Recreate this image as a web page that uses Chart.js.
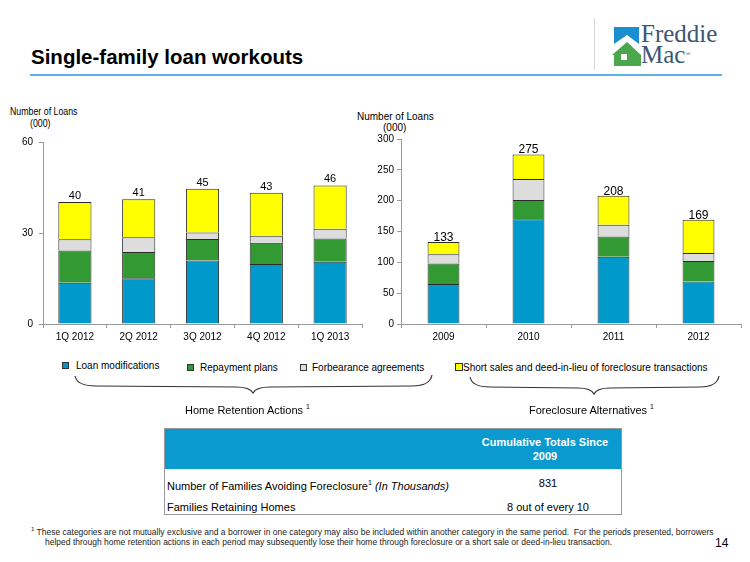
<!DOCTYPE html>
<html>
<head>
<meta charset="utf-8">
<script src="https://cdn.jsdelivr.net/npm/chart.js@4.4.1/dist/chart.umd.min.js"></script>
<style>
body { margin: 0; background: #fff; }
#slide { position: relative; width: 750px; height: 562px; overflow: hidden; font-family: Arial, "Liberation Sans", sans-serif; color: #000; }
.abs { position: absolute; white-space: nowrap; }
.narrow { transform: scaleX(0.8); transform-origin: left top; }
.sq { position: absolute; width: 5px; height: 5px; border: 1px solid #333; }
canvas { position: absolute; }
</style>
</head>
<body>
<div id="slide">
    <!-- header -->
    <div class="abs" style="left:31px;top:45px;font-size:20.5px;font-weight:bold;line-height:24px;">Single-family loan workouts</div>
    <div class="abs" style="left:30px;top:74px;width:692px;height:2px;background:#5bb4e5;"></div>
    <div class="abs" style="left:594px;top:18px;width:1px;height:52px;background:#d8d8d8;"></div>
    <svg class="abs" style="left:610px;top:24px;" width="34" height="46">
        <polygon points="4,3 29,3 29,20 17,11 4,20" fill="#1a8fd0"/>
        <polygon points="2,31 17,18 31,31 31,42 4,42 4,31" fill="#4ca64c"/>
        <rect x="11" y="30" width="6" height="6" fill="#fff"/>
    </svg>
    <div class="abs" style="left:641px;top:21px;font-family:'Liberation Serif','DejaVu Serif',serif;font-size:25px;line-height:25px;color:#3d5674;">Freddie</div>
    <div class="abs" style="left:641px;top:42px;font-family:'Liberation Serif','DejaVu Serif',serif;font-size:25px;line-height:25px;color:#3d5674;">Mac<span style="font-size:7px;vertical-align:top;">®</span></div>

    <!-- axis titles -->
    <div class="abs narrow" style="left:10px;top:105px;font-size:11px;line-height:12px;">Number of Loans</div>
    <div class="abs narrow" style="left:30px;top:117px;font-size:11px;line-height:12px;">(000)</div>
    <div class="abs" style="left:357px;top:111px;font-size:10px;line-height:12px;">Number of Loans</div>
    <div class="abs" style="left:383px;top:122px;font-size:10px;line-height:12px;">(000)</div>

    <canvas id="quarterChart" width="370" height="215" style="left:0px;top:130px;"></canvas>
    <canvas id="yearChart" width="390" height="215" style="left:360px;top:130px;"></canvas>

    <!-- legend -->
    <div class="sq" style="left:62px;top:362px;background:#0099cc;"></div>
    <div class="abs" style="left:76px;top:360px;font-size:10px;line-height:12px;">Loan modifications</div>
    <div class="sq" style="left:187px;top:364px;background:#339933;"></div>
    <div class="abs" style="left:200px;top:362px;font-size:10px;line-height:12px;">Repayment plans</div>
    <div class="sq" style="left:300px;top:364px;background:#dddddd;"></div>
    <div class="abs" style="left:312px;top:362px;font-size:10px;line-height:12px;">Forbearance agreements</div>
    <div class="sq" style="left:455px;top:363px;width:6px;height:6px;background:#ffff00;"></div>
    <div class="abs" style="left:463px;top:362px;font-size:10px;line-height:12px;">Short sales and deed-in-lieu of foreclosure transactions</div>

    <svg class="abs" style="left:0;top:0;" width="750" height="420">
        <path d="M75,376 Q77,386 96,386 L236,387 Q250,387 253,393 Q256,387 270,387 L412,386 Q430,386 432,375" fill="none" stroke="#333" stroke-width="1.2"/>
        <path d="M470,377 Q472,387 490,387 L578,388 Q591,388 594,394 Q597,388 610,388 L700,387 Q717,387 719,376" fill="none" stroke="#333" stroke-width="1.2"/>
    </svg>
    <div class="abs" style="left:185px;top:400px;font-size:11px;line-height:13px;">Home Retention Actions <sup style="font-size:7px;">1</sup></div>
    <div class="abs" style="left:529px;top:400px;font-size:11px;line-height:13px;">Foreclosure Alternatives <sup style="font-size:7px;">1</sup></div>

    <!-- table -->
    <div class="abs" style="left:164px;top:428px;width:456px;height:85px;border:1px solid #999;"></div>
    <div class="abs" style="left:165px;top:429px;width:456px;height:40px;background:#0a9ad0;"></div>
    <div class="abs" style="left:470px;top:435px;width:150px;text-align:center;color:#fff;font-weight:bold;font-size:11px;line-height:14px;">Cumulative Totals Since<br>2009</div>
    <div class="abs" style="left:167px;top:476px;font-size:11px;line-height:14px;">Number of Families Avoiding Foreclosure<sup style="font-size:7px;">1</sup> <i>(In Thousands)</i></div>
    <div class="abs" style="left:470px;top:476px;width:156px;text-align:center;font-size:11px;line-height:14px;">831</div>
    <div class="abs" style="left:167px;top:500px;font-size:11px;line-height:14px;">Families Retaining Homes</div>
    <div class="abs" style="left:470px;top:500px;width:156px;text-align:center;font-size:11px;line-height:14px;">8 out of every 10</div>

    <!-- footnote -->
    <div class="abs" style="left:31px;top:524px;font-size:8.5px;line-height:11px;color:#222;"><sup style="font-size:6px;">1</sup> These categories are not mutually exclusive and a borrower in one category may also be included within another category in the same period.&nbsp; For the periods presented, borrowers</div>
    <div class="abs" style="left:45px;top:537px;font-size:8.5px;line-height:11px;color:#222;">helped through home retention actions in each period may subsequently lose their home through foreclosure or a short sale or deed-in-lieu transaction.</div>
    <div class="abs" style="left:715px;top:536px;font-size:12px;line-height:14px;">14</div>
</div>

<script>
// Quarterly home retention / foreclosure alternatives (000 loans)
const quarterLabels = ['1Q 2012', '2Q 2012', '3Q 2012', '4Q 2012', '1Q 2013'];
const quarterLoanMods = [13.6, 15.1, 20.9, 19.8, 20.5];
const quarterRepayment = [10.6, 8.6, 7.1, 7.0, 7.7];
const quarterForbearance = [3.7, 4.9, 2.2, 2.3, 3.2];
const quarterShortSales = [12.3, 12.5, 14.4, 14.2, 14.3];
const quarterTotals = [40, 41, 45, 43, 46];

// Annual totals (000 loans)
const yearLabels = ['2009', '2010', '2011', '2012'];
const yearLoanMods = [65, 170, 109, 69];
const yearRepayment = [33, 31, 33, 33];
const yearForbearance = [15, 34, 19, 13];
const yearShortSales = [20, 40, 47, 54];
const yearTotals = [133, 275, 208, 169];

const colors = ['#0099cc', '#339933', '#dddddd', '#ffff00'];
const seriesNames = ['Loan modifications', 'Repayment plans', 'Forbearance agreements', 'Short sales and deed-in-lieu of foreclosure transactions'];

// draws the total above each stacked bar
const totalsPlugin = {
    id: 'totals',
    afterDatasetsDraw(chart, args, opts) {
        const ctx = chart.ctx;
        const meta = chart.getDatasetMeta(chart.data.datasets.length - 1);
        ctx.save();
        ctx.font = opts.font;
        ctx.fillStyle = '#000';
        ctx.textAlign = 'center';
        ctx.textBaseline = 'alphabetic';
        meta.data.forEach((bar, i) => ctx.fillText(opts.values[i], bar.x, bar.y - opts.gap));
        ctx.restore();
    }
};

function createChart(id, labels, series, totals, cfg) {
    return new Chart(document.getElementById(id), {
        type: 'bar',
        data: {
            labels: labels,
            datasets: series.map((data, i) => ({
                label: seriesNames[i],
                data: data,
                backgroundColor: colors[i],
                borderColor: '#2a2a2a',
                borderWidth: { top: 1, left: 1, right: 1, bottom: 0 },
                borderSkipped: false,
                barPercentage: cfg.barPct,
                categoryPercentage: 1
            }))
        },
        options: {
            responsive: false,
            animation: false,
            devicePixelRatio: 1,
            layout: { padding: { top: cfg.padTop, right: cfg.padRight, left: 0, bottom: 0 } },
            plugins: {
                legend: { display: false },
                tooltip: { enabled: false },
                totals: { values: totals, font: cfg.labelFont, gap: cfg.labelGap }
            },
            scales: {
                x: {
                    stacked: true,
                    grid: { drawOnChartArea: false, drawTicks: true, tickLength: 4, color: '#999', offset: true },
                    border: { color: '#999', width: 1 },
                    ticks: { color: '#000', font: cfg.tickFont, padding: 3 },
                    afterFit: s => { s.height = 21; }
                },
                y: {
                    stacked: true,
                    min: 0,
                    max: cfg.max,
                    grid: { drawOnChartArea: false, drawTicks: true, tickLength: 4, color: '#999' },
                    border: { color: '#999', width: 1 },
                    ticks: { color: '#000', font: cfg.yFont, stepSize: cfg.step, padding: cfg.yPad },
                    afterFit: s => { s.width = cfg.yWidth; }
                }
            }
        },
        plugins: [totalsPlugin]
    });
}

const arial = 'Arial, "Liberation Sans", sans-serif';

createChart('quarterChart', quarterLabels,
    [quarterLoanMods, quarterRepayment, quarterForbearance, quarterShortSales], quarterTotals,
    { barPct: 0.52, max: 60, step: 30, padTop: 7, padRight: 8, yWidth: 43, yPad: 6,
      tickFont: { family: arial, size: 10 }, yFont: { family: arial, size: 10 },
      labelFont: '11px ' + arial, labelGap: 3 });

createChart('yearChart', yearLabels,
    [yearLoanMods, yearRepayment, yearForbearance, yearShortSales], yearTotals,
    { barPct: 0.375, max: 300, step: 50, padTop: 8, padRight: 9, yWidth: 41, yPad: 3,
      tickFont: { family: arial, size: 10 }, yFont: { family: arial, size: 10 },
      labelFont: '12px ' + arial, labelGap: 1 });
</script>
</body>
</html>
